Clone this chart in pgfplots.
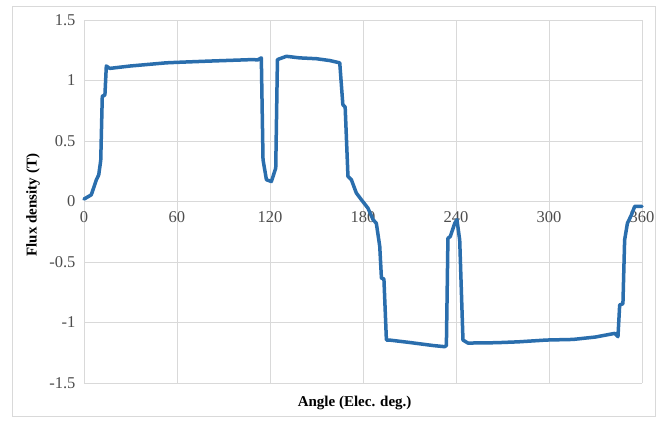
\documentclass[border=0pt]{standalone}
\usepackage{fontspec}
\setmainfont{Liberation Serif}
\usepackage{pgfplots}
\pgfplotsset{compat=1.18}

\definecolor{fluxblue}{HTML}{2A6EAD}
\definecolor{gridgray}{HTML}{D9D9D9}
\definecolor{ticktext}{HTML}{4D4D4D}
\definecolor{framegray}{HTML}{D9D9D9}

\begin{document}
\begin{tikzpicture}[x=1pt,y=1pt]
  % canvas (origin at the lower left corner of the plot area)
  \fill[white] (-84,-43) rectangle (581,383);
  \useasboundingbox (-84,-43) rectangle (581,383);
  \draw[framegray, line width=0.8pt] (-72,-33) rectangle (571,377);

  \begin{axis}[
    scale only axis,
    width=558pt, height=363pt,
    xmin=0, xmax=360, ymin=-1.5, ymax=1.5,
    xtick={0,60,...,360},
    ytick={-1.5,-1,...,1.5},
    yticklabels={-1.5,-1,-0.5,0,0.5,1,1.5},
    axis x line=middle,
    axis y line=left,
    axis line style={draw=none},
    hide obscured x ticks=false,
    hide obscured y ticks=false,
    major tick length=0pt,
    grid=major,
    major grid style={gridgray, line width=0.8pt},
    tick label style={font=\fontsize{16.5}{18}\selectfont, text=ticktext},
    /pgf/number format/assume math mode=true,
    xticklabel style={yshift=-6pt},
    yticklabel style={xshift=-5pt},
    xlabel={Angle (Elec. deg.)},
    ylabel={Flux density (T)},
    label style={font=\fontsize{15}{17}\selectfont\bfseries, text=black},
    xlabel style={at={(axis description cs:0.485,-0.055)}, anchor=center},
    ylabel style={at={(axis description cs:-0.0914,0.49)}, anchor=center, rotate=0},
    clip=false,
  ]
    \addplot[fluxblue, line width=3.5pt, line join=round, line cap=round] coordinates {
      (0,0.02) (4.7,0.055) (8,0.18) (9.5,0.22) (10.8,0.34) (11.8,0.87)
      (13.5,0.88) (14.4,1.12) (16.6,1.10) (30,1.12) (53,1.146) (60,1.15)
      (80,1.16) (109,1.173) (112,1.17) (114.4,1.187) (115.5,0.345)
      (117.7,0.18) (120.9,0.165) (123.7,0.276) (124.8,1.173) (130.6,1.20)
      (139,1.187) (150,1.18) (158.5,1.165) (165,1.146) (167,0.80) (168.5,0.78)
      (170.3,0.207) (172.5,0.18) (175.7,0.07) (179,0.014) (183.2,-0.055)
      (186.5,-0.15) (188.6,-0.18) (190.8,-0.37) (191.9,-0.634) (193.5,-0.64)
      (195.1,-1.145) (197,-1.145) (210,-1.165) (225,-1.19) (232.7,-1.20)
      (233.8,-1.19) (234.8,-0.303) (236.3,-0.29) (239.2,-0.18) (240.6,-0.15)
      (242.4,-0.32) (244.5,-1.145) (247.7,-1.17) (266,-1.167) (280,-1.16)
      (298.3,-1.145) (315.5,-1.14) (330,-1.12) (342.4,-1.09) (344.5,-1.117)
      (345.6,-0.855) (347.7,-0.845) (348.8,-0.317) (350.6,-0.18)
      (353.2,-0.11) (355.3,-0.04) (360,-0.04)
    };
  \end{axis}
\end{tikzpicture}
\end{document}
